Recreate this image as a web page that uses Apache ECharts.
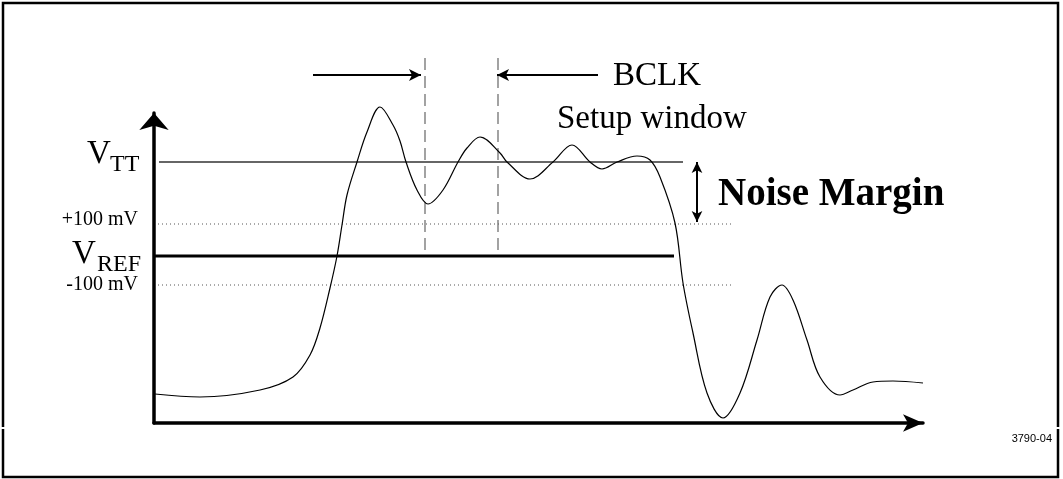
<!DOCTYPE html>
<html><head><meta charset="utf-8">
<script src="https://cdn.jsdelivr.net/npm/echarts@6/dist/echarts.min.js"></script>
<style>html,body{margin:0;padding:0;background:#fff}#c{width:1063px;height:479px}</style>
</head><body><div id="c"></div>
<script>
// Waveform (arbitrary time units vs arbitrary level units)
const waveX = [1,46,106,139,156,166,176,183,188,193,203,213,226,239,246,252,263,274,289,304,313,326,346,353,376,399,418,436,448,463,483,496,506,521,529,539,553,569,586,603,616,628,639,653,666,686,699,719,739,769];
const waveY = [29,26,33,46,68,95,135,167,198,228,261,291,316,298,282,261,233,219,233,261,275,286,270,261,244,261,278,261,254,261,267,263,246,200,140,90,30,5,30,83,126,138,123,83,46,28,33,41,42,40];

// Reference levels
const levelNames = ['VTT', '+100 mV', 'VREF', '-100 mV'];
const levelValues = [261, 199, 167, 138];
const levelStartX = [5, 4, 0, 4];
const levelEndX = [529, 577, 520, 577];

// BCLK setup window edges and arrows
const windowEdgesX = [271, 344];
const windowSpanY = [173, 365];
const arrowLevelY = 348;
const leftArrowX = [159, 267];   // start, tip
const rightArrowX = [444, 343];  // start, tip

// Noise margin arrow
const noiseX = 543;
const noiseSpanY = [201, 261];   // bottom tip, top tip

const xMax = 769, yMax = 310;

const levelStyles = [
  {color:'#333', width:1.5, type:'solid'},
  {color:'#555', width:1, type:[1,3]},
  {color:'#000', width:3, type:'solid'},
  {color:'#555', width:1, type:[1,3]}
];

const series = [];
series.push({
  type:'line', data: waveX.map((x,i)=>[x, waveY[i]]), smooth:0.35, showSymbol:false,
  lineStyle:{color:'#000', width:1.2}, clip:false, silent:true, z:3
});
levelValues.forEach((v,i)=>{
  series.push({type:'line', name:levelNames[i], data:[[levelStartX[i], v],[levelEndX[i], v]], showSymbol:false,
    lineStyle:levelStyles[i], clip:false, silent:true, z:2});
});
windowEdgesX.forEach(x=>{
  series.push({type:'line', data:[[x, windowSpanY[0]],[x, windowSpanY[1]]], showSymbol:false,
    lineStyle:{color:'#666', width:1.2, type:[12,6]}, clip:false, silent:true, z:2});
});
function arrowSeries(p0, p1, rot, size, width){
  return {type:'line', symbol:'none', clip:false, silent:true, z:4,
    lineStyle:{color:'#000', width:width},
    itemStyle:{color:'#000', borderWidth:0},
    data:[{value:p0, symbol:'none'}, {value:p1, symbol:'arrow', symbolSize:size, symbolRotate:rot}]};
}
series.push(arrowSeries([leftArrowX[0], arrowLevelY],[leftArrowX[1], arrowLevelY], -90, [9,12], 2));
series.push(arrowSeries([rightArrowX[0], arrowLevelY],[rightArrowX[1], arrowLevelY], 90, [9,12], 2));
const mid = (noiseSpanY[0]+noiseSpanY[1])/2;
series.push(arrowSeries([noiseX, mid],[noiseX, noiseSpanY[1]], 0, [8,11], 2));
series.push(arrowSeries([noiseX, mid],[noiseX, noiseSpanY[0]], 180, [8,11], 2));

const option = {
  backgroundColor:'#fff',
  animation:false,
  grid:{left:154, top:113, right:140, bottom:56, containLabel:false},
  xAxis:{type:'value', min:0, max:xMax, axisLabel:{show:false}, axisTick:{show:false}, splitLine:{show:false},
    axisLine:{show:true, lineStyle:{color:'#000', width:3.5}, symbol:['none','arrow'], symbolSize:[13,20]}},
  yAxis:{type:'value', min:0, max:yMax, axisLabel:{show:false}, axisTick:{show:false}, splitLine:{show:false},
    axisLine:{show:true, lineStyle:{color:'#000', width:3.5}, symbol:['none','arrow'], symbolSize:[22,17]}},
  series: series
};

const chart = echarts.init(document.getElementById('c'), null, {renderer:'canvas'});
chart.setOption(option);

const px = (x,y)=>chart.convertToPixel({gridIndex:0},[x,y]);
const origin = px(0,0);
const ax = origin[0];
const ly = levelValues.map(v=>px(0,v)[1]);
const serif = '"Liberation Serif", "Times New Roman", serif';
function txt(text, x, y, size, align, weight, family){
  return {type:'text', silent:true, z:10, style:{text:text, x:x, y:y,
    font:(weight||'normal')+' '+size+'px '+(family||serif), fill:'#000',
    align:align||'left', textAlign:align||'left', verticalAlign:'middle', textVerticalAlign:'middle'}};
}
const arrowPx = px(rightArrowX[0], arrowLevelY);
const winRight = px(windowEdgesX[1], 0)[0];
const noisePx = px(noiseX, mid);
const graphic = [
  {type:'rect', silent:true, z:0, shape:{x:3, y:3, width:1055, height:474}, style:{fill:'none', stroke:'#000', lineWidth:2.5}},
  {type:'rect', silent:true, z:1, shape:{x:0, y:427, width:7, height:2}, style:{fill:'#fff'}},
  {type:'rect', silent:true, z:1, shape:{x:1055, y:427, width:8, height:2}, style:{fill:'#fff'}},
  txt('V', ax-67, ly[0]-7.5, 33),
  txt('TT', ax-44, ly[0]+3, 24),
  txt('+100 mV', ax-16, ly[1]-4, 20, 'right'),
  txt('V', ax-82, ly[2]-1.5, 33),
  txt('REF', ax-57, ly[2]+9, 24),
  txt('-100 mV', ax-16, ly[3], 20, 'right'),
  txt('BCLK', arrowPx[0]+15, arrowPx[1]+1.5, 33),
  txt('Setup window', winRight+59, 119, 33),
  txt('Noise Margin', noisePx[0]+21, noisePx[1]+2.5, 39, 'left', 'bold'),
  txt('3790-04', 1052, 439, 11, 'right', 'normal', '"Liberation Sans", Arial, sans-serif')
];
chart.setOption({graphic:graphic});
</script>
</body></html>
